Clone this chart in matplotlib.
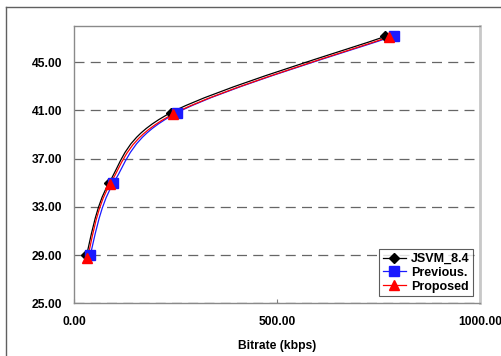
import matplotlib
matplotlib.use("Agg")
import matplotlib.pyplot as plt
from matplotlib.path import Path
from matplotlib.patches import PathPatch
from matplotlib.lines import Line2D
import numpy as np

plt.rcParams['font.family'] = ['Liberation Sans', 'DejaVu Sans']

series_names = ["JSVM_8.4", "Previous.", "Proposed"]
jsvm_x = [30.5, 86.5, 238.0, 766.0]
jsvm_y = [29.00, 35.00, 40.80, 47.13]
prev_x = [39.4, 97.0, 254.5, 788.0]
prev_y = [28.98, 34.96, 40.82, 47.18]
prop_x = [32.8, 88.7, 244.6, 776.0]
prop_y = [28.73, 34.88, 40.71, 47.10]

x_ticks = [0, 500, 1000]
x_ticklabels = ["0.00", "500.00", "1000.00"]
y_ticks = [25, 29, 33, 37, 41, 45]
y_ticklabels = ["25.00", "29.00", "33.00", "37.00", "41.00", "45.00"]

colors = ["#000000", "#1a1aff", "#ff0000"]
markers = ["D", "s", "^"]
msizes = [5.5, 6.5, 7.5]

fig = plt.figure(figsize=(5.02, 3.56), dpi=100)
ax = fig.add_axes([74/502, 1-303.3/356, (480-74)/502, (303.3-26)/356])

# outer chart-area frame (partially visible)
fig.add_artist(Line2D([5.5/502, 1.0], [1-7.3/356, 1-7.3/356], color="#606060", lw=1.0,
                      transform=fig.transFigure))
fig.add_artist(Line2D([5.5/502, 5.5/502], [0.0, 1-7.3/356], color="#606060", lw=1.0,
                      transform=fig.transFigure))


def smooth_path(xs, ys):
    pts = np.column_stack([xs, ys]).astype(float)
    n = len(pts)
    verts = [pts[0]]
    codes = [Path.MOVETO]
    for i in range(n - 1):
        p0 = pts[i - 1] if i > 0 else pts[i]
        p1 = pts[i]
        p2 = pts[i + 1]
        p3 = pts[i + 2] if i + 2 < n else pts[i + 1]
        c1 = p1 + (p2 - p0) / 6.0
        c2 = p2 - (p3 - p1) / 6.0
        verts += [c1, c2, p2]
        codes += [Path.CURVE4] * 3
    return Path(verts, codes)


data = [(jsvm_x, jsvm_y), (prev_x, prev_y), (prop_x, prop_y)]
handles = []
for (xs, ys), c, m, ms, name in zip(data, colors, markers, msizes, series_names):
    patch = PathPatch(smooth_path(xs, ys), facecolor="none", edgecolor=c, lw=0.9, zorder=3)
    ax.add_patch(patch)
    ax.plot(xs, ys, linestyle="none", marker=m, markersize=ms, color=c, zorder=4)
    handles.append(Line2D([0], [0], color=c, lw=0.9, marker=m, markersize=ms, label=name))

ax.set_xlim(0, 1000)
ax.set_ylim(25, 48)
ax.set_xticks(x_ticks)
ax.set_xticklabels(x_ticklabels, fontweight="bold", fontsize=8.7)
ax.set_yticks(y_ticks)
ax.set_yticklabels(y_ticklabels, fontweight="bold", fontsize=8.7)
ax.tick_params(axis="x", direction="in", length=3, color="#808080", pad=9)
ax.tick_params(axis="y", length=0, pad=8.5)

ax.yaxis.grid(True, linestyle=(0, (8, 5)), color="#666666", lw=0.9)
ax.set_axisbelow(True)

for side in ["left", "bottom", "top"]:
    ax.spines[side].set_color("#8a8a8a")
    ax.spines[side].set_linewidth(1.0)
ax.spines["right"].set_color("#c8c8c8")
ax.spines["right"].set_linewidth(2.0)

ax.set_xlabel("Bitrate (kbps)", fontweight="bold", fontsize=8.7, labelpad=9)

leg = ax.legend(handles=handles, loc="lower right", frameon=True,
                fancybox=False, edgecolor="#333333", handlelength=1.9,
                handletextpad=0.35, labelspacing=0.15, borderpad=0.3,
                borderaxespad=0.55, prop={"weight": "bold", "size": 9})
leg.get_frame().set_linewidth(0.8)

fig.savefig("out.png", dpi=100)
